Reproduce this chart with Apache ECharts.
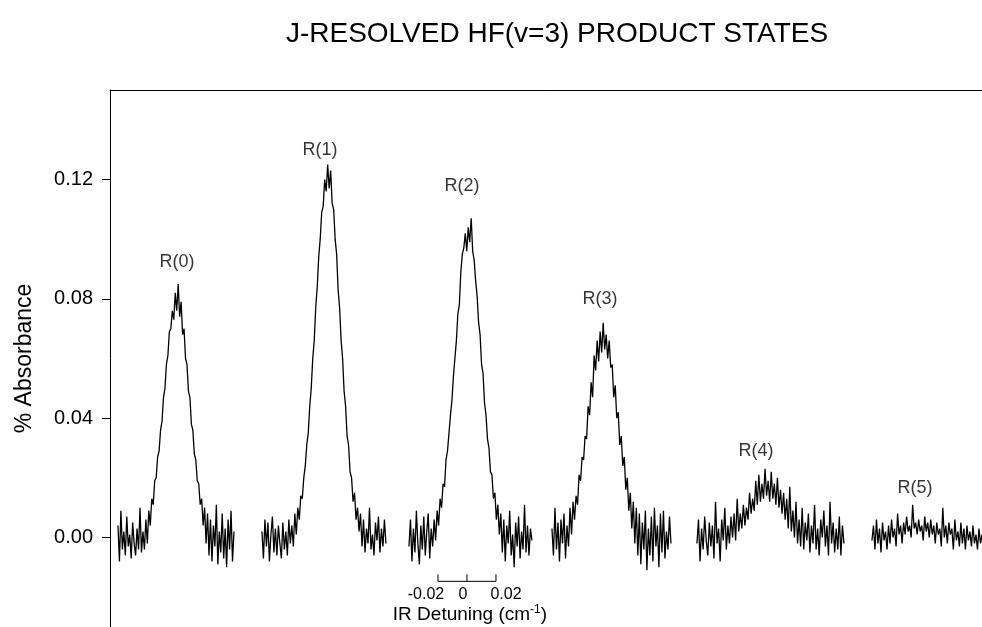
<!DOCTYPE html>
<html>
<head>
<meta charset="utf-8">
<script src="https://cdn.jsdelivr.net/npm/echarts@6/dist/echarts.min.js"></script>
<style>
html,body{margin:0;padding:0;background:#fff;}
#main{width:982px;height:627px;}
</style>
</head>
<body>
<div id="main"></div>
<script>
// one scan per rotational line, laid side by side (x in cm-1 along the plot)
var scanNames = ['R(0)','R(1)','R(2)','R(3)','R(4)','R(5)'];
var scanStart = [0.0055, 0.1048, 0.2062, 0.3048, 0.4048, 0.5255];
var scanEnd   = [0.0855, 0.1903, 0.2910, 0.3869, 0.5062, 0.6014];

// % absorbance
var r0 = [0.004,-0.008,0.009,-0.004,0.002,-0.006,0.007,-0.003,0.001,-0.007,
	0.005,-0.002,-0.006,0.003,-0.004,0.010,-0.005,0.002,-0.004,0.006,
	-0.002,0.009,0.004,0.013,0.011,0.019,0.020,0.027,0.029,0.036,
	0.039,0.047,0.050,0.058,0.061,0.069,0.070,0.076,0.073,0.082,
	0.076,0.085,0.074,0.079,0.068,0.070,0.060,0.058,0.049,0.047,
	0.038,0.036,0.028,0.026,0.019,0.018,0.011,0.013,0.004,0.010,
	-0.002,0.008,-0.006,0.006,-0.008,0.004,-0.003,0.011,-0.009,0.002,
	-0.005,0.008,-0.007,0.003,-0.010,0.006,-0.004,0.009,-0.008,0.002];
var r1 = [0.002,-0.007,0.006,-0.003,0.005,-0.008,0.001,0.007,-0.005,0.003,
	-0.006,0.004,-0.002,-0.007,0.005,-0.004,0.002,-0.006,0.006,-0.002,
	0.004,-0.003,0.008,0.001,0.010,0.006,0.014,0.013,0.020,0.024,
	0.031,0.035,0.044,0.050,0.060,0.066,0.077,0.084,0.094,0.100,
	0.109,0.111,0.120,0.116,0.125,0.117,0.123,0.112,0.110,0.100,
	0.095,0.083,0.077,0.066,0.060,0.049,0.044,0.034,0.031,0.022,
	0.020,0.012,0.015,0.006,0.010,0.002,0.008,-0.003,0.006,-0.005,
	0.003,-0.002,0.010,-0.004,0.001,-0.006,0.005,-0.001,0.007,-0.005,
	0.003,-0.003,0.006,-0.002];
var r2 = [-0.003,0.006,-0.008,0.003,-0.005,0.009,-0.002,-0.009,0.004,-0.004,
	0.007,-0.006,0.002,0.008,-0.007,0.003,-0.003,0.006,-0.001,0.009,
	0.004,0.013,0.010,0.018,0.017,0.026,0.029,0.035,0.041,0.046,
	0.054,0.060,0.066,0.075,0.078,0.089,0.095,0.097,0.102,0.096,
	0.104,0.099,0.107,0.096,0.093,0.086,0.081,0.072,0.068,0.058,
	0.055,0.045,0.041,0.033,0.030,0.022,0.021,0.013,0.015,0.006,
	0.011,0.001,0.008,-0.005,0.006,-0.008,0.004,-0.002,0.009,-0.006,
	0.001,-0.010,0.005,-0.003,0.007,-0.007,0.002,-0.004,0.011,-0.005,
	0.004,-0.006,0.003,-0.001];
var r3 = [0.003,-0.006,0.010,-0.004,0.005,-0.008,0.006,-0.002,0.008,-0.007,
	0.004,-0.003,0.010,0.001,0.012,0.006,0.014,0.011,0.021,0.019,
	0.027,0.026,0.034,0.033,0.044,0.041,0.052,0.047,0.061,0.056,
	0.066,0.059,0.069,0.062,0.072,0.063,0.068,0.060,0.066,0.057,
	0.058,0.047,0.051,0.040,0.042,0.031,0.034,0.024,0.027,0.016,
	0.020,0.009,0.015,0.003,0.012,-0.002,0.010,-0.006,0.008,-0.009,
	0.005,-0.004,0.009,-0.011,0.003,-0.006,0.007,-0.008,0.010,-0.003,
	0.004,-0.010,0.008,-0.005,0.009,-0.007,0.002,-0.004,0.007,-0.002];
var r4 = [-0.002,0.006,-0.008,0.003,-0.004,0.007,-0.001,-0.006,0.005,-0.003,
	0.004,-0.007,0.012,-0.002,0.003,-0.008,0.006,-0.001,0.010,-0.004,
	0.004,-0.002,0.007,0.000,0.008,-0.001,0.013,0.002,0.008,0.003,
	0.011,0.004,0.010,0.006,0.015,0.008,0.013,0.009,0.019,0.011,
	0.021,0.012,0.018,0.013,0.023,0.014,0.019,0.012,0.022,0.013,
	0.018,0.011,0.020,0.010,0.016,0.008,0.015,0.006,0.013,0.003,
	0.017,0.002,0.009,0.000,0.012,-0.002,0.006,-0.003,0.010,-0.004,
	0.005,-0.001,0.008,-0.005,0.004,-0.002,0.011,-0.004,0.003,-0.006,
	0.006,0.000,0.009,-0.003,0.004,-0.006,0.012,-0.002,0.005,-0.005,
	0.003,-0.004,0.007,-0.006,0.004,-0.002];
var r5 = [-0.001,0.004,-0.004,0.006,-0.002,0.003,-0.005,0.005,-0.001,0.002,
	-0.004,0.004,-0.002,0.006,0.000,0.003,-0.003,0.008,0.001,0.004,
	-0.002,0.005,0.001,0.007,0.002,0.004,0.000,0.011,0.003,0.005,
	0.001,0.006,0.002,0.004,-0.001,0.007,0.002,0.005,0.000,0.006,
	0.001,0.004,-0.002,0.005,0.001,0.003,-0.003,0.010,0.000,0.004,
	-0.002,0.005,0.001,0.003,-0.004,0.006,-0.001,0.002,-0.003,0.005,
	-0.002,0.003,-0.004,0.004,-0.001,0.002,-0.003,0.004,-0.002,0.001,
	-0.004,0.003,-0.002,0.001];
var scans = [r0, r1, r2, r3, r4, r5];

// peak label anchors
var labelX = [0.0462, 0.1448, 0.2428, 0.3379, 0.4455, 0.5552];
var labelY = [0.0923, 0.1300, 0.1177, 0.0800, 0.0290, 0.0167];

var yTicks = [0, 0.04, 0.08, 0.12];
// detuning scale bar under R(2)
var detuningTicks = [-0.02, 0, 0.02];
var detuningZero = 0.2462;
var detuningBarY = -0.0147;

var series = [];
for (var i = 0; i < scans.length; i++) {
	var vals = scans[i];
	var step = (scanEnd[i] - scanStart[i]) / (vals.length - 1);
	var pts = [];
	for (var j = 0; j < vals.length; j++) {
		pts.push([scanStart[i] + j * step, vals[j]]);
	}
	series.push({
		name: scanNames[i],
		type: 'line',
		data: pts,
		symbol: 'none',
		lineStyle: {color: '#000', width: 1.3},
		silent: true
	});
}

var lbl = [];
for (var k = 0; k < scanNames.length; k++) {
	lbl.push([labelX[k], labelY[k], scanNames[k]]);
}
series.push({
	type: 'scatter',
	data: lbl,
	symbolSize: 0,
	silent: true,
	label: {
		show: true,
		position: 'inside',
		formatter: function(p){ return p.data[2]; },
		color: '#000',
		fontSize: 18,
		fontFamily: 'Liberation Sans'
	}
});

series.push({
	type: 'custom',
	data: [[detuningZero, detuningBarY]],
	silent: true,
	clip: false,
	renderItem: function(params, api){
		var c = api.value(0), y = api.value(1);
		var kids = [];
		var a = api.coord([c + detuningTicks[0], y]);
		var b = api.coord([c + detuningTicks[detuningTicks.length - 1], y]);
		kids.push({type: 'line', shape: {x1: a[0], y1: a[1], x2: b[0], y2: b[1]}, style: {stroke: '#000', lineWidth: 1}});
		for (var t = 0; t < detuningTicks.length; t++) {
			var p = api.coord([c + detuningTicks[t], y]);
			var shift = detuningTicks[t] < 0 ? -12 : (detuningTicks[t] > 0 ? 10 : -4);
			kids.push({type: 'line', shape: {x1: p[0], y1: p[1], x2: p[0], y2: p[1] - 7}, style: {stroke: '#000', lineWidth: 1}});
			kids.push({type: 'text', style: {
				x: p[0] + shift, y: p[1] + 13, text: detuningTicks[t] === 0 ? '0' : detuningTicks[t].toFixed(2),
				align: 'center', verticalAlign: 'middle', fill: '#000',
				font: '16px "Liberation Sans"'
			}});
		}
		var m = api.coord([c, y]);
		kids.push({type: 'text', style: {
			x: m[0] + 3, y: m[1] + 33,
			text: '{a|IR Detuning (cm}{s|-1}{a|)}',
			align: 'center', verticalAlign: 'middle',
			rich: {
				a: {fontSize: 19, fontFamily: 'Liberation Sans', fill: '#000', lineHeight: 22},
				s: {fontSize: 12, fontFamily: 'Liberation Sans', fill: '#000', verticalAlign: 'top', lineHeight: 22}
			}
		}});
		return {type: 'group', children: kids};
	}
});

var myChart = echarts.init(document.getElementById('main'));
var option = {
	animation: false,
	backgroundColor: '#fff',
	textStyle: {fontFamily: 'Liberation Sans'},
	graphic: [{
		type: 'text',
		x: 557, y: 34,
		style: {
			text: 'J-RESOLVED HF(v=3) PRODUCT STATES',
			align: 'center', verticalAlign: 'middle',
			font: '28px "Liberation Sans"', fill: '#000'
		}
	}],
	grid: {left: 110, right: 0, top: 90, height: 540},
	xAxis: {
		type: 'value', min: 0, max: 0.6014, position: 'top',
		axisLine: {show: true, onZero: false, lineStyle: {color: '#000', width: 1}},
		axisTick: {show: false}, axisLabel: {show: false}, splitLine: {show: false}
	},
	yAxis: {
		type: 'value', min: -0.03, max: 0.15,
		name: '% Absorbance', nameLocation: 'middle', nameGap: 74,
		nameTextStyle: {fontSize: 23, color: '#000', fontFamily: 'Liberation Sans'},
		axisLine: {show: true, lineStyle: {color: '#000', width: 1}},
		axisTick: {show: true, length: 8, customValues: yTicks, lineStyle: {color: '#000'}},
		axisLabel: {
			customValues: yTicks, margin: 17, fontSize: 20, color: '#000',
			formatter: function(v){ return v.toFixed(2); }
		},
		splitLine: {show: false}
	},
	series: series
};
myChart.setOption(option);
</script>
</body>
</html>
